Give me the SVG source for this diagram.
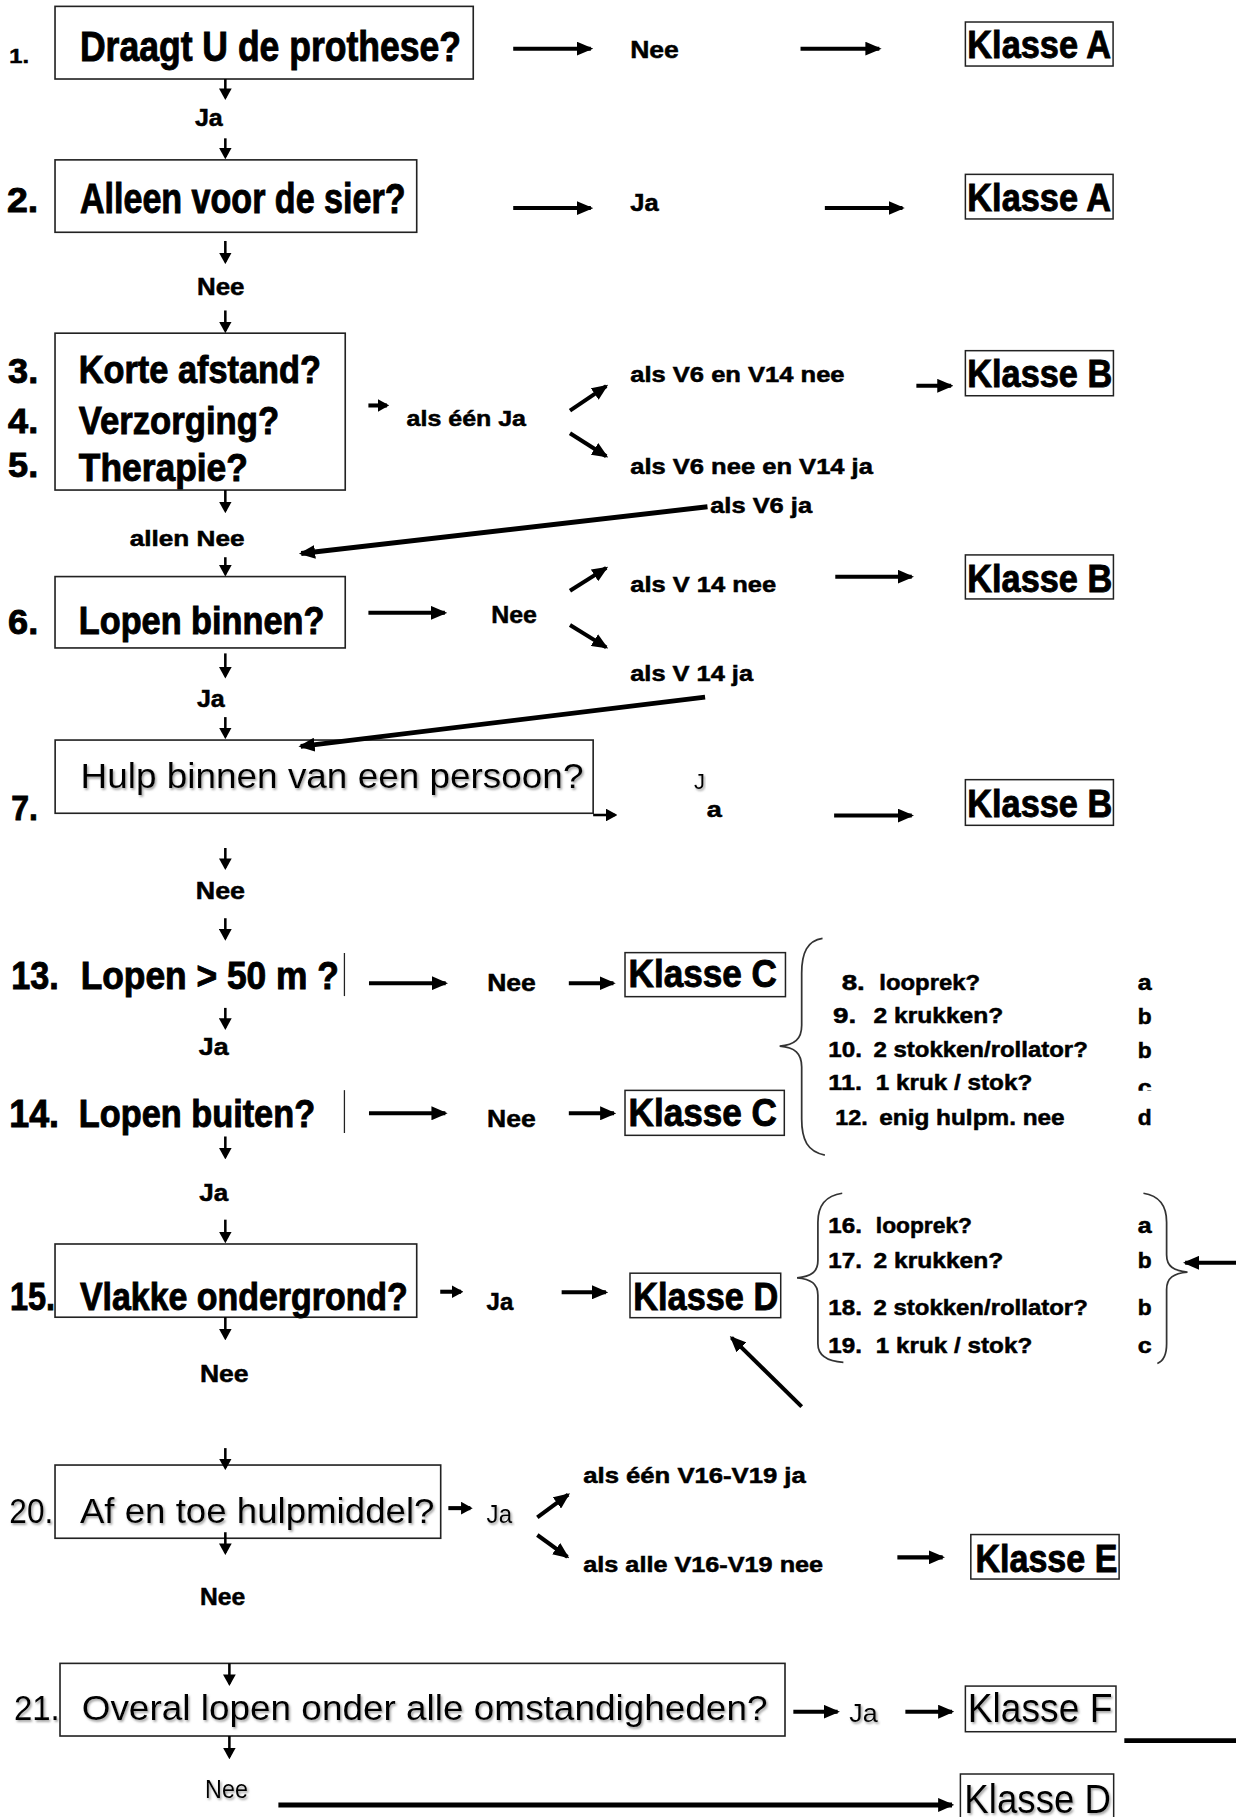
<svg xmlns="http://www.w3.org/2000/svg" width="1236" height="1817" viewBox="0 0 1236 1817">
<style>
.b{font-family:"Liberation Sans",Arial,Helvetica,sans-serif;font-weight:bold;fill:#000;stroke:#000;stroke-width:0.45}
.n{font-family:"Liberation Sans",Arial,Helvetica,sans-serif;font-weight:normal;fill:#000;filter:url(#sh)}
.q{font-size:36px;stroke-width:0.8}
.q3{font-size:33px;stroke-width:0.8}
.k{font-size:34px;stroke-width:0.8}
.s{font-size:21px}
.m{font-size:19px}
.l{font-size:19px}
.box{fill:none;stroke:#222;stroke-width:1.4}
.kbox{fill:none;stroke:#222;stroke-width:1.3}
.c{fill:none;stroke:#000;stroke-width:3.5}
.cl{fill:none;stroke:#000;stroke-width:4.2}
.d{fill:none;stroke:#000;stroke-width:2.2}
.br{fill:none;stroke:#333;stroke-width:1.5}
.vl{stroke:#222;stroke-width:1.1}
</style>
<defs>
<marker id="ah" markerUnits="userSpaceOnUse" viewBox="0 0 14 12" markerWidth="14" markerHeight="12" refX="12" refY="6" orient="auto"><path d="M0,0 L14,6 L0,12 z" fill="#000"/></marker>
<marker id="as" markerUnits="userSpaceOnUse" viewBox="0 0 10 11" markerWidth="10" markerHeight="11" refX="8" refY="5.5" orient="auto"><path d="M0,0 L10,5.5 L0,11 z" fill="#000"/></marker>
<filter id="sh" x="-5%" y="-20%" width="110%" height="150%"><feDropShadow dx="1.2" dy="1.6" stdDeviation="0.9" flood-color="#777" flood-opacity="0.7"/></filter>
<clipPath id="clip11"><rect x="700" y="900" width="320" height="41.5"/></clipPath>
</defs>
<rect width="1236" height="1817" fill="#fff"/>
<g transform="scale(1.1585)">

<g id="q1">
<rect class="box" x="47.5" y="5.5" width="361" height="62.7"/>
<text class="b" x="8" y="54" font-size="17" textLength="17" lengthAdjust="spacingAndGlyphs">1.</text>
<text class="b q" x="69" y="53" textLength="329" lengthAdjust="spacingAndGlyphs">Draagt U de prothese?</text>
</g>
<g id="q2">
<rect class="box" x="47.5" y="138" width="312.2" height="62.5"/>
<text class="b" x="6" y="183" font-size="31" textLength="27" lengthAdjust="spacingAndGlyphs" style="stroke-width:0.8">2.</text>
<text class="b q" x="69" y="184" textLength="281" lengthAdjust="spacingAndGlyphs">Alleen voor de sier?</text>
</g>
<g id="q3-5">
<rect class="box" x="47.5" y="287.6" width="250.5" height="135.4"/>
<text class="b" x="7" y="331" font-size="31" textLength="26" lengthAdjust="spacingAndGlyphs" style="stroke-width:0.8">3.</text>
<text class="b q3" x="68" y="331" textLength="209" lengthAdjust="spacingAndGlyphs">Korte afstand?</text>
<text class="b" x="7" y="374" font-size="31" textLength="26" lengthAdjust="spacingAndGlyphs" style="stroke-width:0.8">4.</text>
<text class="b q3" x="68" y="375" textLength="173" lengthAdjust="spacingAndGlyphs">Verzorging?</text>
<text class="b" x="7" y="412" font-size="31" textLength="26" lengthAdjust="spacingAndGlyphs" style="stroke-width:0.8">5.</text>
<text class="b q3" x="68" y="415" textLength="146" lengthAdjust="spacingAndGlyphs">Therapie?</text>
</g>
<g id="q6">
<rect class="box" x="47.5" y="497.7" width="250.5" height="61.6"/>
<text class="b" x="7" y="547" font-size="31" textLength="26" lengthAdjust="spacingAndGlyphs" style="stroke-width:0.8">6.</text>
<text class="b q3" x="68" y="547" textLength="212" lengthAdjust="spacingAndGlyphs">Lopen binnen?</text>
</g>
<g id="q7">
<rect class="box" x="47.6" y="638.8" width="464.4" height="63.2"/>
<text class="n" x="69.6" y="680.5" font-size="31" textLength="434" lengthAdjust="spacingAndGlyphs">Hulp binnen van een persoon?</text>
<text class="b" x="9.7" y="708" font-size="31" textLength="23" lengthAdjust="spacingAndGlyphs" style="stroke-width:0.8">7.</text>
</g>
<g id="q13">
<text class="b q3" x="9.7" y="854" textLength="41" lengthAdjust="spacingAndGlyphs">13.</text>
<text class="b q3" x="69.6" y="854" textLength="223" lengthAdjust="spacingAndGlyphs">Lopen &gt; 50 m ?</text>
<line class="vl" x1="297.3" y1="822.6" x2="297.3" y2="859.8"/>
</g>
<g id="q14">
<text class="b q3" x="8" y="973" textLength="43" lengthAdjust="spacingAndGlyphs">14.</text>
<text class="b q3" x="68" y="973" textLength="204" lengthAdjust="spacingAndGlyphs">Lopen buiten?</text>
<line class="vl" x1="297.3" y1="941" x2="297.3" y2="978"/>
</g>
<g id="q15">
<rect class="box" x="47.5" y="1073.8" width="312.2" height="63.2"/>
<text class="b q3" x="8.6" y="1131" textLength="39" lengthAdjust="spacingAndGlyphs">15.</text>
<text class="b q3" x="69" y="1131" textLength="283" lengthAdjust="spacingAndGlyphs">Vlakke ondergrond?</text>
</g>
<g id="q20">
<rect class="box" x="47.5" y="1264.6" width="332.9" height="63.2"/>
<text class="n" x="8" y="1315" font-size="31" textLength="38" lengthAdjust="spacingAndGlyphs">20.</text>
<text class="n" x="69" y="1315" font-size="31" textLength="306" lengthAdjust="spacingAndGlyphs">Af en toe hulpmiddel?</text>
</g>
<g id="q21">
<rect class="box" x="51.8" y="1435.8" width="625.8" height="62.7"/>
<text class="n" x="12" y="1485" font-size="30" textLength="39.5" lengthAdjust="spacingAndGlyphs">21.</text>
<text class="n" x="70.5" y="1485" font-size="31" textLength="592" lengthAdjust="spacingAndGlyphs">Overal lopen onder alle omstandigheden?</text>
</g>

<g id="klasse-a1">
<rect class="kbox" x="833.3" y="19" width="127.5" height="38"/>
<text class="b k" x="835" y="50.3" textLength="124" lengthAdjust="spacingAndGlyphs">Klasse A</text>
</g>
<g id="klasse-a2">
<rect class="kbox" x="833.3" y="150.5" width="127.5" height="38.5"/>
<text class="b k" x="835" y="182" textLength="124" lengthAdjust="spacingAndGlyphs">Klasse A</text>
</g>
<g id="klasse-b1">
<rect class="kbox" x="833.3" y="302.7" width="127.8" height="38.9"/>
<text class="b k" x="835" y="334" textLength="125" lengthAdjust="spacingAndGlyphs">Klasse B</text>
</g>
<g id="klasse-b2">
<rect class="kbox" x="833.3" y="479" width="127.8" height="38"/>
<text class="b k" x="835" y="510.7" textLength="125" lengthAdjust="spacingAndGlyphs">Klasse B</text>
</g>
<g id="klasse-b3">
<rect class="kbox" x="833.3" y="673" width="127.8" height="39.4"/>
<text class="b k" x="835" y="704.8" textLength="125" lengthAdjust="spacingAndGlyphs">Klasse B</text>
</g>
<g id="klasse-c1">
<rect class="kbox" x="539.5" y="822.3" width="138.5" height="38"/>
<text class="b k" x="542.6" y="852" textLength="128" lengthAdjust="spacingAndGlyphs">Klasse C</text>
</g>
<g id="klasse-c2">
<rect class="kbox" x="539.5" y="941.2" width="137.5" height="38.8"/>
<text class="b k" x="542.6" y="972" textLength="128" lengthAdjust="spacingAndGlyphs">Klasse C</text>
</g>
<g id="klasse-d1">
<rect class="kbox" x="543.8" y="1099" width="130.1" height="38.4"/>
<text class="b k" x="546.7" y="1130.8" textLength="125" lengthAdjust="spacingAndGlyphs">Klasse D</text>
</g>
<g id="klasse-e">
<rect class="kbox" x="838" y="1324.6" width="128" height="38.4"/>
<text class="b k" x="842" y="1356.9" textLength="122.5" lengthAdjust="spacingAndGlyphs">Klasse E</text>
</g>
<g id="klasse-f">
<rect class="kbox" x="833.3" y="1455.4" width="130" height="39.4"/>
<text class="n" x="835.3" y="1486" font-size="35" textLength="125" lengthAdjust="spacingAndGlyphs">Klasse F</text>
</g>
<g id="klasse-d2">
<rect class="kbox" x="829" y="1531.3" width="132.3" height="40"/>
<text class="n" x="832.4" y="1565.3" font-size="35" textLength="126.6" lengthAdjust="spacingAndGlyphs">Klasse D</text>
</g>

<g id="list-8-12">
<path class="br" d="M710,810 C697,812 692,822 692,840 L692,885 C692,897 686,902 673,903 C686,904 692,909 692,921 L692,966 C692,984 697,994 712,997"/>
<text class="b l" x="726.5" y="854.6" textLength="20" lengthAdjust="spacingAndGlyphs">8.</text>
<text class="b l" x="759" y="854.6" textLength="87" lengthAdjust="spacingAndGlyphs">looprek?</text>
<text class="b l" x="982" y="854.6" textLength="12" lengthAdjust="spacingAndGlyphs">a</text>
<text class="b l" x="719" y="883" textLength="20" lengthAdjust="spacingAndGlyphs">9.</text>
<text class="b l" x="754" y="883" textLength="112" lengthAdjust="spacingAndGlyphs">2 krukken?</text>
<text class="b l" x="982" y="884" textLength="12" lengthAdjust="spacingAndGlyphs">b</text>
<text class="b l" x="715" y="912" textLength="29" lengthAdjust="spacingAndGlyphs">10.</text>
<text class="b l" x="754" y="912" textLength="185" lengthAdjust="spacingAndGlyphs">2 stokken/rollator?</text>
<text class="b l" x="982" y="913.5" textLength="12" lengthAdjust="spacingAndGlyphs">b</text>
<g clip-path="url(#clip11)">
<text class="b l" x="715" y="941" textLength="29" lengthAdjust="spacingAndGlyphs">11.</text>
<text class="b l" x="756" y="941" textLength="135" lengthAdjust="spacingAndGlyphs">1 kruk / stok?</text>
<text class="b l" x="982" y="945.5" textLength="12" lengthAdjust="spacingAndGlyphs">c</text>
</g>
<text class="b l" x="721" y="971" textLength="28" lengthAdjust="spacingAndGlyphs">12.</text>
<text class="b l" x="759" y="971" textLength="160" lengthAdjust="spacingAndGlyphs">enig hulpm. nee</text>
<text class="b l" x="982" y="971" textLength="12" lengthAdjust="spacingAndGlyphs">d</text>
</g>

<g id="list-16-19">
<path class="br" d="M727,1030 C713,1032 706,1040 706,1055 L706,1088 C706,1098 700,1102 688,1103 C700,1104 706,1108 706,1118 L706,1160 C706,1170 713,1175 728,1176"/>
<path class="br" d="M987,1030 C1000,1032 1007,1040 1007,1055 L1007,1083 C1007,1093 1013,1097 1025,1098 C1013,1099 1007,1103 1007,1113 L1007,1160 C1007,1170 1004,1175 999,1177"/>
<text class="b l" x="715" y="1064" textLength="29" lengthAdjust="spacingAndGlyphs">16.</text>
<text class="b l" x="756" y="1064" textLength="83" lengthAdjust="spacingAndGlyphs">looprek?</text>
<text class="b l" x="982" y="1064" textLength="12" lengthAdjust="spacingAndGlyphs">a</text>
<text class="b l" x="715" y="1094.5" textLength="29" lengthAdjust="spacingAndGlyphs">17.</text>
<text class="b l" x="754" y="1094.5" textLength="112" lengthAdjust="spacingAndGlyphs">2 krukken?</text>
<text class="b l" x="982" y="1094.5" textLength="12" lengthAdjust="spacingAndGlyphs">b</text>
<text class="b l" x="715" y="1135" textLength="29" lengthAdjust="spacingAndGlyphs">18.</text>
<text class="b l" x="754" y="1135" textLength="185" lengthAdjust="spacingAndGlyphs">2 stokken/rollator?</text>
<text class="b l" x="982" y="1135" textLength="12" lengthAdjust="spacingAndGlyphs">b</text>
<text class="b l" x="715" y="1168" textLength="29" lengthAdjust="spacingAndGlyphs">19.</text>
<text class="b l" x="756" y="1168" textLength="135" lengthAdjust="spacingAndGlyphs">1 kruk / stok?</text>
<text class="b l" x="982" y="1168" textLength="12" lengthAdjust="spacingAndGlyphs">c</text>
</g>

<g id="connectors">
<line class="c" x1="443" y1="42" x2="510" y2="42" marker-end="url(#ah)"/>
<line class="c" x1="691" y1="42" x2="759" y2="42" marker-end="url(#ah)"/>
<line class="c" x1="443" y1="179.6" x2="510" y2="179.6" marker-end="url(#ah)"/>
<line class="c" x1="712" y1="179.6" x2="779" y2="179.6" marker-end="url(#ah)"/>
<line class="c" x1="791" y1="333" x2="821" y2="333" marker-end="url(#ah)"/>
<line class="cl" x1="610.7" y1="437.4" x2="260" y2="477.8" marker-end="url(#ah)"/>
<line class="c" x1="318" y1="529" x2="384" y2="529" marker-end="url(#ah)"/>
<line class="c" x1="721" y1="497.8" x2="787" y2="497.8" marker-end="url(#ah)"/>
<line class="cl" x1="608.6" y1="601.8" x2="259.6" y2="644.2" marker-end="url(#ah)"/>
<line class="c" x1="720" y1="704" x2="787" y2="704" marker-end="url(#ah)"/>
<line class="c" x1="318.5" y1="848.7" x2="384.7" y2="848.7" marker-end="url(#ah)"/>
<line class="c" x1="491" y1="848.7" x2="529.5" y2="848.7" marker-end="url(#ah)"/>
<line class="c" x1="318.5" y1="961" x2="384.4" y2="961" marker-end="url(#ah)"/>
<line class="c" x1="491" y1="961" x2="530" y2="961" marker-end="url(#ah)"/>
<line class="c" x1="484.8" y1="1115.5" x2="523" y2="1115.5" marker-end="url(#ah)"/>
<line class="c" x1="692" y1="1214.2" x2="631.4" y2="1154.6" marker-end="url(#ah)"/>
<line class="c" x1="1070" y1="1090" x2="1023" y2="1090" marker-end="url(#ah)"/>
<line class="c" x1="774.6" y1="1344.3" x2="813.7" y2="1344.3" marker-end="url(#ah)"/>
<line class="c" x1="684.8" y1="1477.5" x2="723" y2="1477.5" marker-end="url(#ah)"/>
<line class="c" x1="781.5" y1="1477.5" x2="821.8" y2="1477.5" marker-end="url(#ah)"/>
<line class="cl" x1="240.3" y1="1558" x2="821.8" y2="1558" marker-end="url(#ah)"/>
<line class="cl" x1="970.5" y1="1502.5" x2="1070" y2="1502.5"/>
<line class="c" x1="492" y1="354.5" x2="523.3" y2="333.3" marker-end="url(#ah)"/>
<line class="c" x1="492" y1="374" x2="523.3" y2="393.9" marker-end="url(#ah)"/>
<line class="c" x1="492" y1="510" x2="523.3" y2="490.2" marker-end="url(#ah)"/>
<line class="c" x1="492" y1="539.5" x2="523.3" y2="558.8" marker-end="url(#ah)"/>
<line class="c" x1="463.8" y1="1309.8" x2="490.4" y2="1290.2" marker-end="url(#ah)"/>
<line class="c" x1="463.8" y1="1325" x2="489.8" y2="1343.8" marker-end="url(#ah)"/>
<line class="c" x1="318" y1="350" x2="334" y2="350" marker-end="url(#as)"/>
<line class="d" x1="512" y1="703.5" x2="531" y2="703.5" marker-end="url(#as)"/>
<line class="c" x1="380" y1="1115" x2="398" y2="1115" marker-end="url(#as)"/>
<line class="c" x1="387" y1="1301.8" x2="406" y2="1301.8" marker-end="url(#as)"/>
<line class="d" x1="194.5" y1="68.2" x2="194.5" y2="84.3" marker-end="url(#as)"/>
<line class="d" x1="194.5" y1="119.4" x2="194.5" y2="135.5" marker-end="url(#as)"/>
<line class="d" x1="194.5" y1="208" x2="194.5" y2="226" marker-end="url(#as)"/>
<line class="d" x1="194.5" y1="268" x2="194.5" y2="285.6" marker-end="url(#as)"/>
<line class="d" x1="194.5" y1="423" x2="194.5" y2="441" marker-end="url(#as)"/>
<line class="d" x1="194.5" y1="481" x2="194.5" y2="495.7" marker-end="url(#as)"/>
<line class="d" x1="194.5" y1="564" x2="194.5" y2="583.7" marker-end="url(#as)"/>
<line class="d" x1="194.5" y1="619" x2="194.5" y2="636" marker-end="url(#as)"/>
<line class="d" x1="194.5" y1="732" x2="194.5" y2="749" marker-end="url(#as)"/>
<line class="d" x1="194.5" y1="792.6" x2="194.5" y2="810" marker-end="url(#as)"/>
<line class="d" x1="194.5" y1="870" x2="194.5" y2="887" marker-end="url(#as)"/>
<line class="d" x1="194.5" y1="981" x2="194.5" y2="998.8" marker-end="url(#as)"/>
<line class="d" x1="194.5" y1="1052.8" x2="194.5" y2="1071.2" marker-end="url(#as)"/>
<line class="d" x1="194.5" y1="1137" x2="194.5" y2="1155" marker-end="url(#as)"/>
<line class="d" x1="194.5" y1="1250" x2="194.5" y2="1267" marker-end="url(#as)"/>
<line class="d" x1="194.5" y1="1322.6" x2="194.5" y2="1340.3" marker-end="url(#as)"/>
<line class="d" x1="198" y1="1435.8" x2="198" y2="1453.3" marker-end="url(#as)"/>
<line class="d" x1="198" y1="1498.5" x2="198" y2="1516.6" marker-end="url(#as)"/>
</g>

<g id="edge-labels">
<text class="b s" x="544" y="50.3" textLength="42" lengthAdjust="spacingAndGlyphs">Nee</text>
<text class="b s" x="168.3" y="108.8" textLength="24" lengthAdjust="spacingAndGlyphs">Ja</text>
<text class="b s" x="544" y="182" textLength="24.5" lengthAdjust="spacingAndGlyphs">Ja</text>
<text class="b s" x="170" y="254.7" textLength="41" lengthAdjust="spacingAndGlyphs">Nee</text>
<text class="b m" x="351" y="368" textLength="103" lengthAdjust="spacingAndGlyphs">als één Ja</text>
<text class="b m" x="544" y="330" textLength="185" lengthAdjust="spacingAndGlyphs">als V6 en V14 nee</text>
<text class="b m" x="544" y="409" textLength="209.5" lengthAdjust="spacingAndGlyphs">als V6 nee en V14 ja</text>
<text class="b m" x="613" y="442.5" textLength="88" lengthAdjust="spacingAndGlyphs">als V6 ja</text>
<text class="b m" x="112" y="471" textLength="99" lengthAdjust="spacingAndGlyphs">allen Nee</text>
<text class="b s" x="424" y="538" textLength="39.5" lengthAdjust="spacingAndGlyphs">Nee</text>
<text class="b m" x="544" y="510.7" textLength="126" lengthAdjust="spacingAndGlyphs">als V 14 nee</text>
<text class="b m" x="544" y="587.6" textLength="106" lengthAdjust="spacingAndGlyphs">als V 14 ja</text>
<text class="b s" x="170" y="610" textLength="24" lengthAdjust="spacingAndGlyphs">Ja</text>
<text class="n" x="599" y="681" font-size="19" textLength="9.5" lengthAdjust="spacingAndGlyphs">J</text>
<text class="b m" x="610" y="705" textLength="13" lengthAdjust="spacingAndGlyphs">a</text>
<text class="b s" x="169" y="776" textLength="42.5" lengthAdjust="spacingAndGlyphs">Nee</text>
<text class="b s" x="420.5" y="855" textLength="42" lengthAdjust="spacingAndGlyphs">Nee</text>
<text class="b s" x="171.6" y="910.7" textLength="25.7" lengthAdjust="spacingAndGlyphs">Ja</text>
<text class="b s" x="420.4" y="973" textLength="42" lengthAdjust="spacingAndGlyphs">Nee</text>
<text class="b s" x="172" y="1037" textLength="25" lengthAdjust="spacingAndGlyphs">Ja</text>
<text class="b s" x="420" y="1131" textLength="23" lengthAdjust="spacingAndGlyphs">Ja</text>
<text class="b s" x="172.6" y="1192.6" textLength="42" lengthAdjust="spacingAndGlyphs">Nee</text>
<text class="n" x="420" y="1315" font-size="22" textLength="22" lengthAdjust="spacingAndGlyphs">Ja</text>
<text class="b m" x="503.5" y="1280.4" textLength="192" lengthAdjust="spacingAndGlyphs">als één V16-V19 ja</text>
<text class="b m" x="503.5" y="1356.6" textLength="207" lengthAdjust="spacingAndGlyphs">als alle V16-V19 nee</text>
<text class="b s" x="172.6" y="1385.4" textLength="39" lengthAdjust="spacingAndGlyphs">Nee</text>
<text class="n" x="733" y="1486" font-size="22" textLength="24.6" lengthAdjust="spacingAndGlyphs">Ja</text>
<text class="n" x="177" y="1552.3" font-size="22" textLength="37" lengthAdjust="spacingAndGlyphs">Nee</text>
</g>
</g>
</svg>
